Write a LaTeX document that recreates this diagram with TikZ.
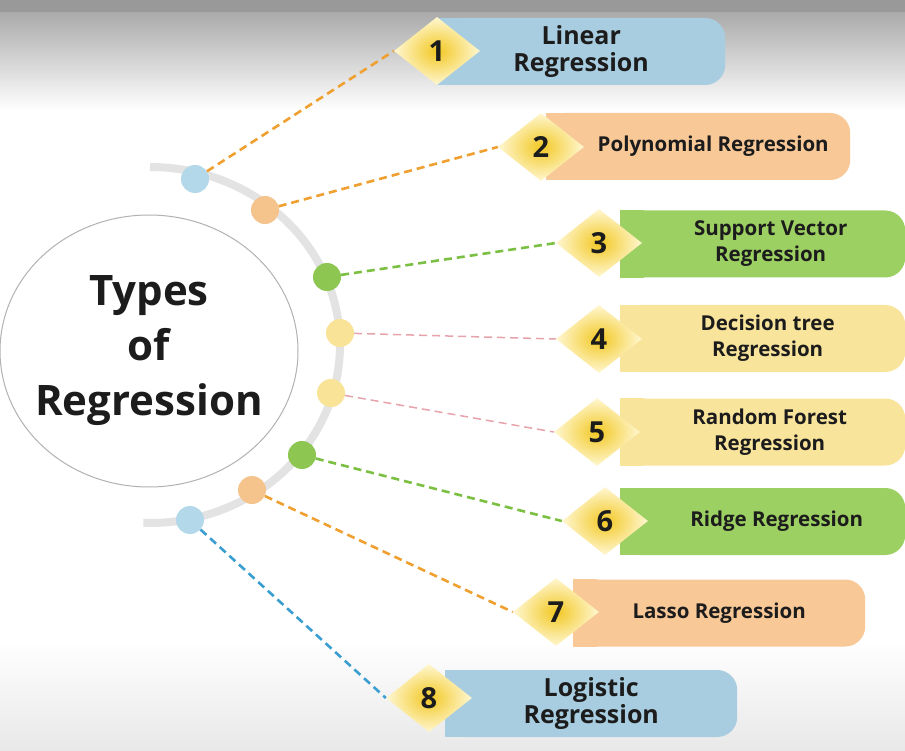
\documentclass[tikz,border=0pt]{standalone}
\usepackage{fontspec}
\setmainfont{Open Sans}
\usetikzlibrary{shapes.geometric}

\definecolor{boxblue}{HTML}{A8CDE0}
\definecolor{boxorange}{HTML}{F8C897}
\definecolor{boxgreen}{HTML}{9CD062}
\definecolor{boxyellow}{HTML}{F9E49C}
\definecolor{dotblue}{HTML}{B2D8EA}
\definecolor{dotorange}{HTML}{F5C38C}
\definecolor{dotgreen}{HTML}{8DC651}
\definecolor{dotyellow}{HTML}{F8E396}
\definecolor{lineorange}{HTML}{EFA030}
\definecolor{linegreen}{HTML}{7CC043}
\definecolor{linepink}{HTML}{E6A3AC}
\definecolor{lineblue}{HTML}{3A9FD0}
\definecolor{glowin}{HTML}{F2C823}
\definecolor{glowout}{HTML}{FFF7D2}
\definecolor{ink}{HTML}{1C1C1C}

\begin{document}
\begin{tikzpicture}[x=1pt, y=-1pt,
        every node/.style={text=ink},
        hub/.style={ellipse, draw=gray!60, line width=1pt, fill=white, inner sep=-40pt, minimum width=298pt, minimum height=272pt, align=center, font=\fontsize{42}{55}\selectfont\bfseries},
        bead/.style={circle, fill=#1, minimum size=28pt, inner sep=0pt},
        badge/.style={diamond, shading=radial, inner color=glowin, outer color=glowout, minimum width=86pt, minimum height=68pt, inner sep=0pt, font=\fontsize{29}{30}\selectfont\bfseries},
        tbox/.style={fill=#1, rounded corners=20pt, minimum height=67pt, anchor=west, align=center, font=\fontsize{20.5}{26}\selectfont\bfseries},
        bigtext/.style={font=\fontsize{25}{27}\selectfont\bfseries},
        leader/.style={draw=#1, line width=2.6pt, dash pattern=on 8pt off 5pt}
    ]
        \useasboundingbox (0,0) rectangle (905,751);
        % background
        \fill[white] (0,0) rectangle (905,751);
        \shade[top color=gray!75, bottom color=white] (0,0) rectangle (905,110);
        \fill[gray!80] (0,0) rectangle (905,12);
        \shade[top color=white, bottom color=gray!18] (0,640) rectangle (905,751);

        % track and centre
        \draw[gray!22, line width=8pt] (150,167) arc[start angle=-90, end angle=92, x radius=190, y radius=178];
        \node[hub] (hub) at (149,351) {Types\\of\\Regression};

        \node[bead=dotblue]   (d1) at (195,179) {};
        \node[bead=dotorange] (d2) at (265,210) {};
        \node[bead=dotgreen]  (d3) at (327,277) {};
        \node[bead=dotyellow] (d4) at (340,333) {};
        \node[bead=dotyellow] (d5) at (331,393) {};
        \node[bead=dotgreen]  (d6) at (302,455) {};
        \node[bead=dotorange] (d7) at (252,490) {};
        \node[bead=dotblue]   (d8) at (190,520) {};

        % boxes
        \node[tbox=boxblue, bigtext, minimum width=288pt] (b1) at (437,51.5)  {Linear\\Regression};
        \node[tbox=boxorange, minimum width=304pt] (b2) at (546,146.5) {\hspace*{30pt}Polynomial Regression};
        \node[tbox=boxgreen,  minimum width=285pt] (b3) at (620,244)   {\hspace*{16pt}Support Vector\\\hspace*{16pt}Regression};
        \node[tbox=boxyellow, minimum width=285pt] (b4) at (620,338.5) {\hspace*{10pt}Decision tree\\\hspace*{10pt}Regression};
        \node[tbox=boxyellow, minimum width=285pt] (b5) at (620,432)   {\hspace*{14pt}Random Forest\\\hspace*{14pt}Regression};
        \node[tbox=boxgreen,  minimum width=285pt] (b6) at (620,521.5) {\hspace*{28pt}Ridge Regression};
        \node[tbox=boxorange, minimum width=292pt] (b7) at (573,613)   {Lasso Regression};
        \node[tbox=boxblue, bigtext, minimum width=292pt] (b8) at (445,703.5) {Logistic\\Regression};
        % square off the left ends
        \fill[boxblue]   (b1.north west) rectangle ([xshift=24pt]b1.south west);
        \fill[boxorange] (b2.north west) rectangle ([xshift=24pt]b2.south west);
        \fill[boxgreen]  (b3.north west) rectangle ([xshift=24pt]b3.south west);
        \fill[boxyellow] (b4.north west) rectangle ([xshift=24pt]b4.south west);
        \fill[boxyellow] (b5.north west) rectangle ([xshift=24pt]b5.south west);
        \fill[boxgreen]  (b6.north west) rectangle ([xshift=24pt]b6.south west);
        \fill[boxorange] (b7.north west) rectangle ([xshift=24pt]b7.south west);
        \fill[boxblue]   (b8.north west) rectangle ([xshift=24pt]b8.south west);

        % numbered badges
        \node[badge] (k1) at (437,51)  {1};
        \node[badge] (k2) at (541,147) {2};
        \node[badge] (k3) at (599,243) {3};
        \node[badge] (k4) at (599,339) {4};
        \node[badge] (k5) at (597,432) {5};
        \node[badge] (k6) at (605,521) {6};
        \node[badge] (k7) at (556,612) {7};
        \node[badge] (k8) at (429,698) {8};

        \draw[leader=lineorange] (d1) -- (k1.west);
        \draw[leader=lineorange] (d2) -- (k2.west);
        \draw[leader=linegreen]  (d3) -- (k3.west);
        \draw[leader=linepink, line width=1.5pt] (d4) -- (k4.west);
        \draw[leader=linepink, line width=1.5pt] (d5) -- (k5.west);
        \draw[leader=linegreen]  (d6) -- (k6.west);
        \draw[leader=lineorange] (d7) -- (k7.west);
        \draw[leader=lineblue]   (d8) -- (k8.west);
    \end{tikzpicture}
\end{document}
